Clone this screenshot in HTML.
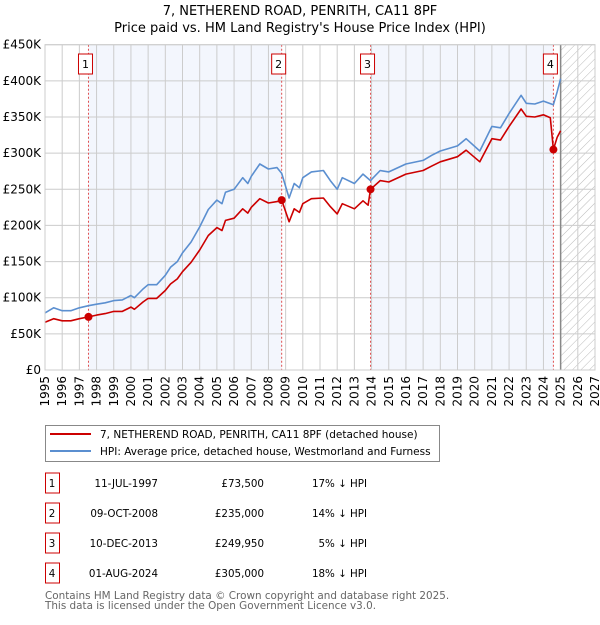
<!DOCTYPE html>
<html><head><meta charset="utf-8"><style>
body{margin:0;background:#fff;font-family:"Liberation Sans","DejaVu Sans",sans-serif;}
svg text{font-family:"DejaVu Sans","Liberation Sans",sans-serif;}
</style></head><body>
<svg id="c" width="600" height="620" xmlns="http://www.w3.org/2000/svg">
<defs><pattern id="hatch" width="6" height="6" patternUnits="userSpaceOnUse" patternTransform="rotate(45)"><line x1="0" y1="0" x2="0" y2="6" stroke="#bbb" stroke-width="1"/></pattern></defs>
<text x="300" y="15" text-anchor="middle" font-size="13">7, NETHEREND ROAD, PENRITH, CA11 8PF</text>
<text x="300" y="32" text-anchor="middle" font-size="13">Price paid vs. HM Land Registry's House Price Index (HPI)</text>
<g id="plot"></g>
<g>
<rect x="45.5" y="425.5" width="394" height="36" fill="#fff" stroke="#888"/>
<line x1="50" y1="434" x2="91" y2="434" stroke="#cc0000" stroke-width="2"/>
<text x="100" y="438" font-size="10.5">7, NETHEREND ROAD, PENRITH, CA11 8PF (detached house)</text>
<line x1="50" y1="451" x2="91" y2="451" stroke="#5b8fd0" stroke-width="2"/>
<text x="100" y="455" font-size="10.5">HPI: Average price, detached house, Westmorland and Furness</text>
</g>
<g id="tbl" font-size="10.3"></g>
<text x="45" y="599" font-size="10.4" fill="#666">Contains HM Land Registry data © Crown copyright and database right 2025.</text>
<text x="45" y="609" font-size="10.4" fill="#666">This data is licensed under the Open Government Licence v3.0.</text>
</svg>
<script>
const hpiDates=[1995.0,1995.5,1996.0,1996.5,1997.0,1997.53,1998.0,1998.5,1999.0,1999.5,2000.0,2000.2,2000.7,2001.0,2001.5,2002.0,2002.3,2002.7,2003.0,2003.5,2004.0,2004.5,2005.0,2005.3,2005.5,2006.0,2006.5,2006.8,2007.0,2007.5,2008.0,2008.5,2008.77,2009.2,2009.5,2009.8,2010.0,2010.5,2011.2,2011.6,2012.0,2012.3,2013.0,2013.5,2013.94,2014.5,2015.0,2016.0,2017.0,2017.5,2018.0,2019.0,2019.5,2020.3,2021.0,2021.5,2022.0,2022.7,2023.0,2023.5,2024.0,2024.58,2024.8,2025.0];
const hpiValues=[79,86,82,82,86,89,91,93,96,97,103,100,112,118,118,131,142,150,162,177,198,222,235,230,246,250,266,258,268,285,278,280,272,238,258,252,266,274,276,262,250,266,258,271,262,276,274,285,290,297,303,310,320,303,337,335,355,380,369,368,372,367,385,403];
const redDates=[1995.0,1995.5,1996.0,1996.5,1997.0,1997.53,1998.0,1998.5,1999.0,1999.5,2000.0,2000.2,2000.7,2001.0,2001.5,2002.0,2002.3,2002.7,2003.0,2003.5,2004.0,2004.5,2005.0,2005.3,2005.5,2006.0,2006.5,2006.8,2007.0,2007.5,2008.0,2008.5,2008.77,2009.2,2009.5,2009.8,2010.0,2010.5,2011.2,2011.6,2012.0,2012.3,2013.0,2013.5,2013.8,2013.94,2014.5,2015.0,2016.0,2017.0,2017.5,2018.0,2019.0,2019.5,2020.3,2021.0,2021.5,2022.0,2022.7,2023.0,2023.5,2024.0,2024.4,2024.58,2024.8,2025.0];
const redValues=[66,71,68,68,71,73.5,76,78,81,81,87,84,94,99,99,110,119,126,136,149,166,186,197,193,207,210,223,217,225,237,231,233,235,205,223,218,230,237,238,226,216,230,223,234,228,249.95,262,260,271,276,282,288,295,304,288,320,318,337,361,351,350,353,349,305,322,331];
const saleLabels=["1","2","3","4"];
const saleDates=[1997.53,2008.77,2013.94,2024.58];
const saleValues=[73.5,235,249.95,305];
const saleDateText=["11-JUL-1997","09-OCT-2008","10-DEC-2013","01-AUG-2024"];
const salePriceText=["£73,500","£235,000","£249,950","£305,000"];
const saleHpiText=["17% ↓ HPI","14% ↓ HPI","5% ↓ HPI","18% ↓ HPI"];
const yTicks=[0,50,100,150,200,250,300,350,400,450];
const yTickLabels=["£0","£50K","£100K","£150K","£200K","£250K","£300K","£350K","£400K","£450K"];
const xYears=[1995,1996,1997,1998,1999,2000,2001,2002,2003,2004,2005,2006,2007,2008,2009,2010,2011,2012,2013,2014,2015,2016,2017,2018,2019,2020,2021,2022,2023,2024,2025,2026,2027];

const L=45,R=595,T=44.7,B=370,X0=1995,X1=2027,YMAX=450,DATA_END=2025.0;
const sx=v=>L+(v-X0)/(X1-X0)*(R-L);
const sy=v=>B-v/YMAX*(B-T);
const NS="http://www.w3.org/2000/svg";
const plot=document.getElementById('plot');
function mk(tag,attrs,parent){const e=document.createElementNS(NS,tag);for(const k in attrs)e.setAttribute(k,attrs[k]);(parent||plot).appendChild(e);return e;}

let b=mk('rect',{x:sx(saleDates[0]),y:T,width:sx(saleDates[1])-sx(saleDates[0]),height:B-T,fill:'#f3f6fd'});


b=mk('rect',{x:sx(saleDates[2]),y:T,width:sx(saleDates[3])-sx(saleDates[2]),height:B-T,fill:'#f3f6fd'});


let h=mk('rect',{x:sx(DATA_END),y:T,width:R-sx(DATA_END),height:B-T,fill:'url(#hatch)'});



yTicks.forEach((v,i)=>{
  const g=mk('line',{x1:L,x2:R,y1:sy(v),y2:sy(v),stroke:'#ccc','stroke-width':1});
  
  
  const t=mk('text',{x:L-4,y:sy(v)+4,'text-anchor':'end','font-size':12});
  t.textContent=yTickLabels[i];
  
  
});
xYears.forEach(y=>{
  const g=mk('line',{x1:sx(y),x2:sx(y),y1:T,y2:B,stroke:'#ccc','stroke-width':1});
  
  
  const t=mk('text',{x:0,y:0,'text-anchor':'end','font-size':12,transform:`translate(${sx(y)+4},${B+6}) rotate(-90)`});
  t.textContent=y;
  
  
});
const dl=mk('line',{x1:sx(DATA_END),x2:sx(DATA_END),y1:T,y2:B,stroke:'#888','stroke-width':1.5});



saleDates.forEach((d,i)=>{
  const l=mk('line',{x1:sx(d),x2:sx(d),y1:T,y2:B,stroke:'#e05050','stroke-width':1,'stroke-dasharray':'2,2'});
  
  
});

function path(xs,ys,color,name){
  const d=xs.map((x,i)=>(i?'L':'M')+sx(x).toFixed(1)+','+sy(ys[i]).toFixed(1)).join('');
  const p=mk('path',{d:d,fill:'none',stroke:color,'stroke-width':1.6,'stroke-linejoin':'round'});
  
  
}
path(hpiDates,hpiValues,'#5b8fd0','hpi-line');
path(redDates,redValues,'#cc0000','price-paid-line');

saleDates.forEach((d,i)=>{
  const c=mk('circle',{cx:sx(d),cy:sy(saleValues[i]),r:4,fill:'#cc0000'});
  
  
  const bx=mk('rect',{x:sx(d)-10,y:54,width:14,height:20,fill:'#fff',stroke:'#cc0000'});
  
  
  const t=mk('text',{x:sx(d)-3,y:68,'text-anchor':'middle','font-size':11});
  t.textContent=saleLabels[i];
  
  
});
const ax=mk('rect',{x:L,y:T,width:R-L,height:B-T,fill:'none',stroke:'#ccc'});



const tbl=document.getElementById('tbl');
saleLabels.forEach((s,i)=>{
  const cy=483+i*30;
  const r=mk('rect',{x:45.5,y:cy-10,width:14,height:20,fill:'#fff',stroke:'#cc0000'},tbl);
  
  
  const cells=[[52,'middle',s,'table-index'],[158,'end',saleDateText[i],'table-date'],[264,'end',salePriceText[i],'table-price'],[367,'end',saleHpiText[i],'table-hpi-diff']];
  cells.forEach(c=>{
    const t=mk('text',{x:c[0],y:cy+4,'text-anchor':c[1]},tbl);
    t.textContent=c[2];
    
    
  });
});
</script>
</body></html>
